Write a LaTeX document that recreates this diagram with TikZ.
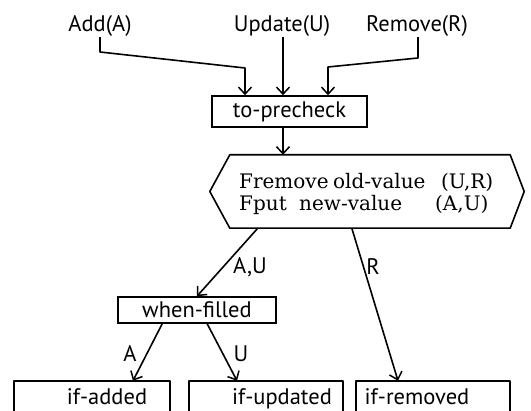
\documentclass[tikz,border=0pt]{standalone}
\usepackage{fontspec}
\setmainfont{PT Sans}
\newfontfamily\serifhex{DejaVu Serif}
\usetikzlibrary{arrows.meta}
\tikzset{
  x=1pt, y=-1pt,
  conn/.style={line width=1.6pt, line join=round},
  arr/.style={conn, -{Straight Barb[length=7pt,width=13pt,line width=1.5pt]}},
  boxnode/.style={draw, line width=1.6pt, inner sep=0pt, font=\fontsize{22.5}{24}\selectfont},
  lbl/.style={font=\fontsize{22.5}{24}\selectfont, inner sep=0pt},
  hextext/.style={font=\serifhex\fontsize{20}{22}\selectfont, inner sep=0pt, anchor=base west},
}
\begin{document}
\begin{tikzpicture}
\useasboundingbox[fill=white] (0,0) rectangle (531,411);
% top inputs
\node[lbl, anchor=base] (add) at (100,32) {Add(A)};
\node[lbl, anchor=base] (upd) at (282,32) {Update(U)};
\node[lbl, anchor=base] (rem) at (417,32) {Remove(R)};
% to-precheck
\node[boxnode, minimum width=155pt, minimum height=31pt] (pre) at (289.5,111.5) {to-precheck};
% hexagon
\node[inner sep=0pt, minimum width=280pt, minimum height=73pt] (hex) at (370,191.5) {};
\draw[conn] (hex.north west) -- (hex.north east) -- ([xshift=14pt]hex.east) -- (hex.south east)
  -- (hex.south west) -- ([xshift=-20pt]hex.west) -- cycle;
\node[hextext] (l1) at (239,189) {\makebox[94pt][l]{Fremove}\makebox[108pt][l]{old-value}(U,R)};
\node[hextext] (l2) at (239,211) {\makebox[60pt][l]{Fput}\makebox[136pt][l]{new-value}(A,U)};
% when-filled
\node[boxnode, minimum width=158pt, minimum height=26pt] (wf) at (197,310) {when-filled};
% bottom boxes (open at bottom)
\node[inner sep=0pt, minimum width=156pt, minimum height=32pt] (badd) at (92,397) {};
\node[inner sep=0pt, minimum width=154pt, minimum height=32pt] (bupd) at (266,397) {};
\node[inner sep=0pt, minimum width=154pt, minimum height=32pt] (brem) at (433,397) {};
\draw[conn] (badd.south west) |- (badd.north east) -- (badd.south east);
\draw[conn] (bupd.south west) |- (bupd.north east) -- (bupd.south east);
\draw[conn] (brem.south west) |- (brem.north east) -- (brem.south east);
\node[lbl, anchor=base] (tadd) at (107,405) {if-added};
\node[lbl, anchor=base] (tupd) at (282,405) {if-updated};
\node[lbl, anchor=base] (trem) at (417,405) {if-removed};
% connectors
\coordinate (a1) at (100,52);
\coordinate (a2) at (245,68);
\coordinate (r1) at (418,58);
\coordinate (r2) at (328,67);
\draw[arr] (add.south) -- (a1) -- (a2) -- (a2 |- pre.north);
\draw[arr] ([xshift=1pt]upd.south) -- ([xshift=1pt]upd.south |- pre.north);
\draw[arr] ([xshift=1pt]rem.south) -- (r1) -- (r2) -- (r2 |- pre.north);
\draw[arr] ([xshift=-6.5pt]pre.south) -- ([xshift=-6.5pt]pre.south |- hex.north);
\draw[arr] ([xshift=28pt]hex.south west) -- (wf.north);
\draw[arr] ([xshift=122pt]hex.south west) -- ([xshift=-35pt]brem.north);
\draw[arr] ([xshift=45pt]wf.south west) -- ([xshift=41pt]badd.north);
\draw[arr] ([xshift=90pt]wf.south west) -- ([xshift=-29pt]bupd.north);
% labels
\node[lbl] (lau) at (250,267) {A,U};
\node[lbl] (lr) at (373,267) {R};
\node[lbl] (la) at (130,354) {A};
\node[lbl] (lu) at (241,354) {U};
\end{tikzpicture}
\end{document}
